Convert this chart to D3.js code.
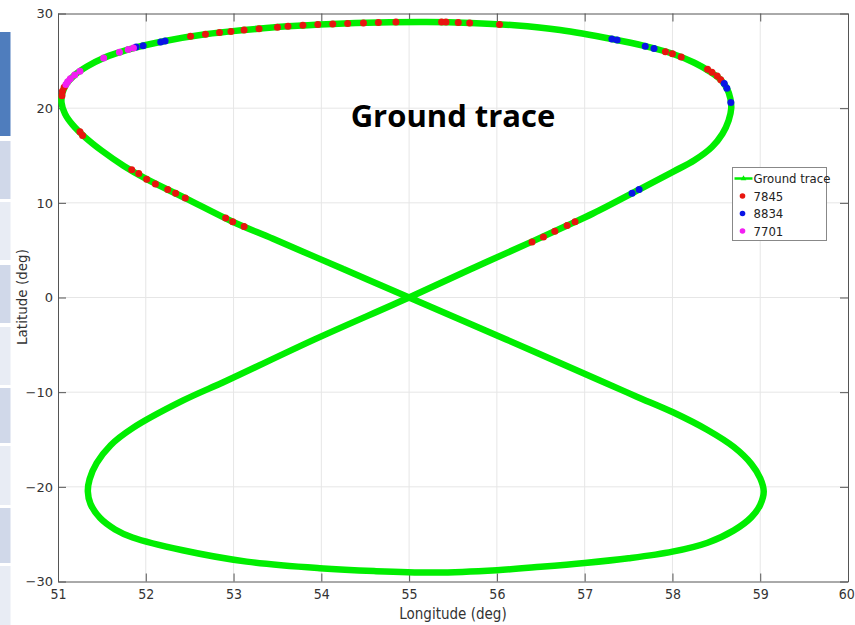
<!DOCTYPE html>
<html>
<head>
<meta charset="utf-8">
<script src="https://cdn.jsdelivr.net/npm/d3@7"></script>
<style>
  html, body { margin: 0; padding: 0; background: #fff; }
  svg { display: block; }
  .tick text { font-family: "Liberation Sans Narrow", "DejaVu Sans Condensed", sans-serif; }
</style>
</head>
<body>
<div id="chart"></div>
<script>
// ground trace as [longitude, latitude]
const traceLon = [55.0, 54.25, 53.45, 52.99, 52.45, 52.01, 51.75, 51.5, 51.3, 51.17, 51.08, 51.04, 51.05, 51.1, 51.19, 51.33, 51.52, 51.7, 51.86, 52.22, 52.68, 53.12, 53.62, 54.13, 54.65, 55.2, 55.7, 56.2, 56.72, 57.31, 57.69, 58.0, 58.25, 58.42, 58.55, 58.62, 58.66, 58.67, 58.64, 58.57, 58.45, 58.25, 58.0, 57.62, 57.1, 56.8, 56.4, 55.75,
  55.0, 53.93, 52.92, 52.42, 51.85, 51.6, 51.44, 51.36, 51.34, 51.37, 51.48, 51.65, 51.85, 52.42, 53.15, 53.98, 54.6, 55.3, 56.0, 56.5, 57.0, 57.5, 58.0, 58.4, 58.7, 58.9, 59.0, 59.04, 59.0, 58.9, 58.7, 58.4, 58.0, 57.6, 57.18, 56.1];
const traceLat = [0.0, 3.0, 6.2, 8.0, 10.5, 12.5, 13.9, 15.5, 17.0, 18.2, 19.4, 20.6, 21.6, 22.6, 23.5, 24.4, 25.3, 25.9, 26.35, 27.1, 27.8, 28.25, 28.65, 28.9, 29.05, 29.1, 29.0, 28.75, 28.25, 27.3, 26.55, 25.75, 24.8, 23.9, 23.0, 22.1, 21.0, 20.0, 18.7, 17.3, 15.9, 14.5, 13.25, 11.4, 8.9, 7.6, 5.9, 3.2,
  0.0, -4.4, -8.8, -10.9, -13.8, -15.6, -17.5, -19.2, -20.5, -21.8, -23.3, -24.5, -25.35, -26.7, -27.9, -28.6, -28.9, -29.05, -28.8, -28.45, -28.05, -27.55, -26.85, -25.9, -24.6, -23.2, -21.9, -20.5, -19.1, -17.6, -15.8, -14.0, -12.1, -10.5, -8.8, -4.4];

// 7845 (red)
const lon7845 = [51.25, 51.28, 51.84, 51.92, 52.01, 52.11, 52.25, 52.34, 52.45, 52.91, 52.99, 53.12,
  51.07, 51.05, 51.045, 52.51, 52.68, 52.84, 52.97, 53.12, 53.29, 53.5, 53.62, 53.79, 53.96, 54.13,
  54.3, 54.48, 54.65, 54.85, 55.37, 55.42, 55.56, 55.69, 56.03,
  57.92, 58.0, 58.1, 58.4, 58.45, 58.51, 58.55,
  56.4, 56.53, 56.66, 56.8, 56.89];
const lat7845 = [17.5, 17.1, 13.5, 13.1, 12.5, 12.0, 11.4, 11.0, 10.5, 8.4, 8.0, 7.5,
  22.2, 21.8, 21.3, 27.6, 27.8, 28.0, 28.1, 28.25, 28.4, 28.55, 28.65, 28.75, 28.85, 28.9,
  28.95, 29.0, 29.05, 29.1, 29.1, 29.1, 29.05, 29.0, 28.85,
  25.95, 25.75, 25.4, 24.1, 23.8, 23.4, 23.0,
  5.85, 6.4, 7.0, 7.6, 8.0];

// 8834 (blue)
const lon8834 = [51.89, 51.97, 52.17, 52.22, 57.31, 57.37, 57.69, 57.79, 58.59, 58.62, 58.665, 57.54, 57.62];
const lat8834 = [26.45, 26.6, 27.0, 27.1, 27.3, 27.2, 26.55, 26.3, 22.6, 22.1, 20.6, 11.0, 11.4];

// 7701 (magenta)
const lon7701 = [51.09, 51.11, 51.14, 51.19, 51.25, 51.52, 51.7, 51.8, 51.86];
const lat7701 = [22.5, 22.8, 23.1, 23.5, 23.9, 25.3, 25.9, 26.2, 26.35];

const xTicks = [51, 52, 53, 54, 55, 56, 57, 58, 59, 60];
const yTicks = [-30, -20, -10, 0, 10, 20, 30];

const seriesNames = ["Ground trace", "7845", "8834", "7701"];
const seriesColors = ["#00ee00", "#e8150f", "#0a14e6", "#f21ef2"];

// slide side panel stripes (part of the screenshot)
const stripeTops = [32, 141, 202, 265, 327, 388, 446, 508, 566];
const stripeBottoms = [136, 199, 260, 323, 385, 443, 505, 563, 625];
const stripeFills = ["#4f7dbd", "#d0d8e9", "#e8ecf4", "#d0d8e9", "#e8ecf4", "#d0d8e9", "#e8ecf4", "#d0d8e9", "#e8ecf4"];

const W = 855, H = 625;
const margin = { top: 13.5, right: 7, bottom: 43.5, left: 58 };
const iw = W - margin.left - margin.right;
const ih = H - margin.top - margin.bottom;

const svg = d3.select("#chart").append("svg")
  .attr("width", W)
  .attr("height", H);

svg.selectAll(".stripe")
  .data(stripeTops)
  .enter()
  .append("rect")
  .attr("x", 0)
  .attr("y", d => d)
  .attr("width", 10.5)
  .attr("height", (d, i) => stripeBottoms[i] - d)
  .attr("fill", (d, i) => stripeFills[i]);

const g = svg.append("g")
  .attr("transform", `translate(${margin.left},${margin.top})`);

const x = d3.scaleLinear().domain([51, 60]).range([0, iw]);
const y = d3.scaleLinear().domain([-30, 30]).range([ih, 0]);

/* grid */
g.append("g")
  .selectAll("line")
  .data(xTicks.slice(1, -1))
  .enter()
  .append("line")
  .attr("x1", d => x(d)).attr("x2", d => x(d))
  .attr("y1", 0).attr("y2", ih)
  .attr("stroke", "#e6e6e6");

g.append("g")
  .selectAll("line")
  .data(yTicks.slice(1, -1))
  .enter()
  .append("line")
  .attr("y1", d => y(d)).attr("y2", d => y(d))
  .attr("x1", 0).attr("x2", iw)
  .attr("stroke", "#e6e6e6");

/* axes, MATLAB-like box with inward ticks */
const axisColor = "#555";
const styleAxis = sel => {
  sel.select(".domain").attr("stroke", axisColor);
  sel.selectAll(".tick line").attr("stroke", axisColor);
  sel.selectAll(".tick text").attr("fill", "#333").style("font-size", "14px");
};

g.append("g")
  .attr("transform", `translate(0,${ih})`)
  .call(d3.axisBottom(x).tickValues(xTicks).tickSizeInner(-8).tickSizeOuter(0).tickPadding(8).tickFormat(d3.format("d")))
  .call(styleAxis)
  .call(a => a.selectAll(".tick text").attr("text-anchor", d => d === 60 ? "end" : "middle").attr("dx", d => d === 60 ? "0.45em" : 0));

g.append("g")
  .call(d3.axisTop(x).tickValues(xTicks).tickSizeInner(-8).tickSizeOuter(0).tickFormat(""))
  .call(styleAxis);

g.append("g")
  .call(d3.axisLeft(y).tickValues(yTicks).tickSizeInner(-8).tickSizeOuter(0).tickPadding(5).tickFormat(d => d < 0 ? "\u2212" + Math.abs(d) : d))
  .call(styleAxis)
  .call(a => a.selectAll(".tick text").style("font-family", "'DejaVu Sans', sans-serif").style("font-size", "13px"));

g.append("g")
  .attr("transform", `translate(${iw},0)`)
  .call(d3.axisRight(y).tickValues(yTicks).tickSizeInner(-8).tickSizeOuter(0).tickFormat(""))
  .call(styleAxis);

/* trace */
const tracePts = traceLon.map((d, i) => [d, traceLat[i]]);
const line = d3.line()
  .x(d => x(d[0]))
  .y(d => y(d[1]))
  .curve(d3.curveCatmullRomClosed.alpha(0.5));

g.append("path")
  .datum(tracePts)
  .attr("d", line)
  .attr("fill", "none")
  .attr("stroke", seriesColors[0])
  .attr("stroke-width", 6.5)
  .attr("stroke-linejoin", "round");

/* station hits */
const dotSets = [
  [lon7845, lat7845],
  [lon8834, lat8834],
  [lon7701, lat7701]
];

dotSets.forEach(([lons, lats], k) => {
  g.append("g")
    .selectAll("circle")
    .data(lons.map((d, i) => [d, lats[i]]))
    .enter()
    .append("circle")
    .attr("cx", d => x(d[0]))
    .attr("cy", d => y(d[1]))
    .attr("r", 3.5)
    .attr("fill", seriesColors[k + 1]);
});

/* labels */
svg.append("text")
  .attr("x", 453)
  .attr("y", 619)
  .attr("text-anchor", "middle")
  .style("font-family", "'Liberation Sans Narrow', 'DejaVu Sans Condensed', sans-serif")
  .style("font-size", "15px")
  .attr("fill", "#333")
  .text("Longitude (deg)");

svg.append("text")
  .attr("transform", "translate(27,297) rotate(-90)")
  .attr("text-anchor", "middle")
  .style("font-family", "'DejaVu Sans', sans-serif")
  .style("font-size", "13.5px")
  .attr("fill", "#333")
  .text("Latitude (deg)");

svg.append("text")
  .attr("x", 453)
  .attr("y", 127)
  .attr("text-anchor", "middle")
  .style("font-family", "'Open Sans', sans-serif")
  .style("font-weight", "bold")
  .style("font-size", "31px")
  .attr("fill", "#000")
  .text("Ground trace");

/* legend */
const lg = svg.append("g").attr("transform", "translate(732.5,167.5)");
lg.append("rect")
  .attr("width", 94)
  .attr("height", 73)
  .attr("fill", "#fff")
  .attr("stroke", "#888");

seriesNames.forEach((name, i) => {
  const row = lg.append("g").attr("transform", `translate(0,${11 + i * 17.5})`);
  if (i === 0) {
    row.append("line")
      .attr("x1", 2).attr("x2", 20)
      .attr("stroke", seriesColors[0])
      .attr("stroke-width", 2.5);
    row.append("path")
      .attr("d", d3.symbol(d3.symbolTriangle, 14)())
      .attr("transform", "translate(11,0)")
      .attr("fill", seriesColors[0]);
  } else {
    row.append("circle")
      .attr("cx", 10)
      .attr("r", 2.8)
      .attr("fill", seriesColors[i]);
  }
  row.append("text")
    .attr("x", 21)
    .attr("dy", "0.35em")
    .style("font-family", "'Liberation Sans Narrow', 'DejaVu Sans Condensed', sans-serif")
    .style("font-size", "13px")
    .attr("fill", "#222")
    .text(name);
});
</script>
</body>
</html>
